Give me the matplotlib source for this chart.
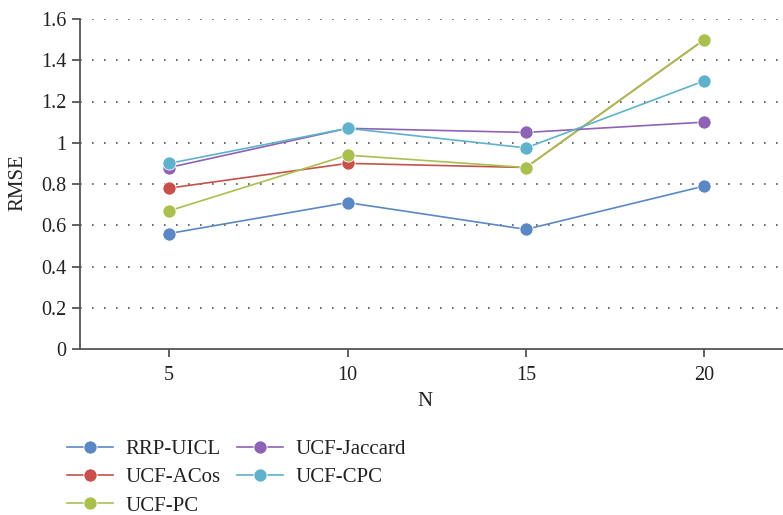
import matplotlib
matplotlib.use("Agg")
import matplotlib.pyplot as plt

N = [5, 10, 15, 20]
series_names = ["RRP-UICL", "UCF-ACos", "UCF-PC", "UCF-Jaccard", "UCF-CPC"]
rrp_uicl = [0.56, 0.71, 0.58, 0.79]
ucf_acos = [0.78, 0.90, 0.88, 1.50]
ucf_pc = [0.67, 0.94, 0.88, 1.50]
ucf_jaccard = [0.88, 1.07, 1.05, 1.10]
ucf_cpc = [0.90, 1.07, 0.975, 1.30]
y_ticks = [0, 0.2, 0.4, 0.6, 0.8, 1.0, 1.2, 1.4, 1.6]
y_tick_labels = ["0", "0.2", "0.4", "0.6", "0.8", "1", "1.2", "1.4", "1.6"]

colors = ["#5b87c5", "#c8504a", "#a9c04f", "#8e62b5", "#5eb2cb"]
values = [rrp_uicl, ucf_acos, ucf_pc, ucf_jaccard, ucf_cpc]

plt.rcParams['font.family'] = ['Liberation Serif', 'DejaVu Serif']

fig = plt.figure(figsize=(7.83, 5.15), dpi=100)
ax = fig.add_axes([80/783, 1-349/515, (793.5-80)/783, (349-19)/515])

handles = {}
for name, vals, c in zip(series_names, values, colors):
    h, = ax.plot(N, vals, color=c, lw=1.2, marker='o', markersize=9.5,
                 markeredgecolor='white', markeredgewidth=0.6, label=name, zorder=3)
    handles[name] = h

ax.set_xlim(2.5, 22.5)
ax.set_ylim(0, 1.6)
ax.set_xticks(N)
ax.set_xticklabels([str(n) for n in N])
ax.set_yticks(y_ticks)
ax.set_yticklabels(y_tick_labels)
for y in y_ticks[1:]:
    ax.axhline(y, color='#555555', lw=1.2, linestyle=(0, (1, 6.2)), zorder=1)

for s in ['top', 'right']:
    ax.spines[s].set_visible(False)
for s in ['left', 'bottom']:
    ax.spines[s].set_color('#555555')
    ax.spines[s].set_linewidth(1.3)
ax.tick_params(axis='x', direction='out', length=6, width=1.3, color='#555555',
               labelsize=14.5, pad=6, labelcolor='#222222')
ax.tick_params(axis='y', direction='out', length=6, width=1.3, color='#555555',
               labelsize=14.5, pad=4, labelcolor='#222222')

fig.text(425/783, 1-402/515, "N", ha='center', va='center', fontsize=15, color='#222222')
fig.text(18/783, 1-183/515, "RMSE", ha='center', va='center', rotation=90, fontsize=15, color='#222222')

order = ["RRP-UICL", "UCF-ACos", "UCF-PC", "UCF-Jaccard", "UCF-CPC"]
leg = fig.legend([handles[n] for n in order], order, loc='upper left',
                 bbox_to_anchor=(59/783, 1-431/515), ncol=2, frameon=False,
                 fontsize=15, handlelength=2.2, handletextpad=0.6,
                 columnspacing=0.8, labelspacing=0.42, borderaxespad=0)
for t in leg.get_texts():
    t.set_color('#222222')

fig.savefig("out.png", dpi=100)
